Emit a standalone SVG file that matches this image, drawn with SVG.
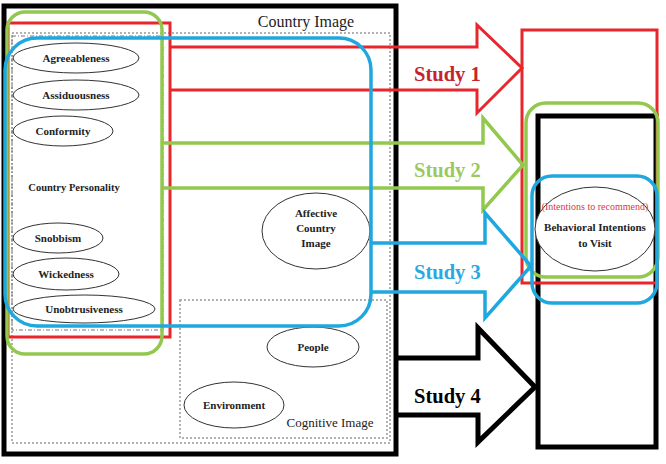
<svg xmlns="http://www.w3.org/2000/svg" width="666" height="464" viewBox="0 0 666 464">
<style>
  text { font-family: "Liberation Serif", "Times New Roman", serif; fill: #222; }
  .lbl { font-size: 11px; font-weight: bold; text-anchor: middle; }
  .study { font-size: 20.5px; font-weight: bold; }
  .ell { fill: #fff; stroke: #333; stroke-width: 1; }
  .dot { fill: none; stroke: #999; stroke-width: 1.5; stroke-dasharray: 2 2; }
  .dashdot { fill: none; stroke: #777; stroke-width: 1; stroke-dasharray: 4 2 1 2; }
  .red { fill: none; stroke: #e8262b; stroke-width: 3; }
  .green { fill: none; stroke: #92c84e; stroke-width: 3.5; }
  .blue { fill: none; stroke: #1fa8e0; stroke-width: 3.5; }
  .black { fill: none; stroke: #000; stroke-width: 5; }
</style>
<rect width="666" height="464" fill="#fff"/>

<g id="country-image">
  <rect x="4" y="6" width="392" height="448" class="black"/>
  <rect x="12" y="33" width="378" height="410" class="dot"/>
  <text x="306" y="27" style="font-size:16px" text-anchor="middle">Country  Image</text>
</g>

<g id="country-personality">
  <rect x="12" y="36" width="151" height="294" class="dashdot"/>
  <text x="74" y="191" class="lbl" style="font-size:10.5px">Country Personality</text>
</g>

<g id="agreeableness"><ellipse cx="76" cy="58" rx="63" ry="15" class="ell"/><text x="76" y="62" class="lbl">Agreeableness</text></g>
<g id="assiduousness"><ellipse cx="76" cy="95" rx="63" ry="15" class="ell"/><text x="76" y="99" class="lbl">Assiduousness</text></g>
<g id="conformity"><ellipse cx="63" cy="131" rx="50" ry="15" class="ell"/><text x="63" y="135" class="lbl">Conformity</text></g>
<g id="snobbism"><ellipse cx="58" cy="238" rx="45" ry="15" class="ell"/><text x="58" y="242" class="lbl">Snobbism</text></g>
<g id="wickedness"><ellipse cx="66" cy="274" rx="53" ry="16" class="ell"/><text x="66" y="278" class="lbl">Wickedness</text></g>
<g id="unobtrusiveness"><ellipse cx="84" cy="309" rx="71" ry="14" class="ell"/><text x="84" y="313" class="lbl">Unobtrusiveness</text></g>

<g id="affective-country-image">
  <ellipse cx="316" cy="231" rx="54" ry="38" class="ell"/>
  <text x="316" y="217" class="lbl">Affective</text>
  <text x="316" y="232" class="lbl">Country</text>
  <text x="316" y="247" class="lbl">Image</text>
</g>

<g id="cognitive-image">
  <rect x="180" y="300" width="207" height="138" class="dot"/>
  <text x="330" y="427" style="font-size:13px" text-anchor="middle">Cognitive Image</text>
</g>
<g id="people"><ellipse cx="313" cy="347" rx="46" ry="20" class="ell"/><text x="313" y="351" class="lbl">People</text></g>
<g id="environment"><ellipse cx="234" cy="405" rx="50" ry="23" class="ell"/><text x="234" y="409" class="lbl">Environment</text></g>

<g id="behavioral-intentions">
  <rect x="538" y="116" width="118" height="331" class="black"/>
  <ellipse cx="595" cy="229" rx="60" ry="42" class="ell"/>
  <text x="595" y="210" text-anchor="middle" style="font-size:10px;fill:#d9383c">(Intentions to recommend)</text>
  <text x="595" y="231" class="lbl">Behavioral Intentions</text>
  <text x="595" y="247" class="lbl">to Visit</text>
</g>

<g id="connectors">
  <!-- Study 1 (red) -->
  <rect x="8" y="23" width="162" height="314" class="red"/>
  <polyline points="170,47 477,47 477,25 522,68 477,113 477,90 170,90" class="red" stroke-linejoin="miter"/>
  <rect x="522" y="30" width="135" height="253" class="red" stroke-width="2.5"/>
  <!-- Study 2 (green) -->
  <rect x="7" y="12" width="155" height="342" rx="18" class="green"/>
  <polyline points="162,143 483,143 483,118 523,165 483,210 483,188 162,188" class="green"/>
  <rect x="526" y="103" width="132" height="174" rx="20" class="green"/>
  <!-- Study 3 (blue) -->
  <rect x="5" y="38" width="366" height="288" rx="32" class="blue"/>
  <polyline points="371,243 485,243 485,213 531,266 485,318 485,292 371,292" class="blue"/>
  <rect x="532" y="176" width="125" height="127" rx="20" class="blue"/>
  <!-- Study 4 (black) -->
  <polyline points="396,358 478,358 478,328 535,387 478,442 478,415 396,415" class="black"/>
</g>

<g id="study-labels">
  <text x="414" y="81" class="study" style="fill:#c4252c">Study 1</text>
  <text x="414" y="177" class="study" style="fill:#9cc860">Study 2</text>
  <text x="414" y="279" class="study" style="fill:#2aa8df">Study 3</text>
  <text x="414" y="403" class="study" style="fill:#000">Study 4</text>
</g>
</svg>
